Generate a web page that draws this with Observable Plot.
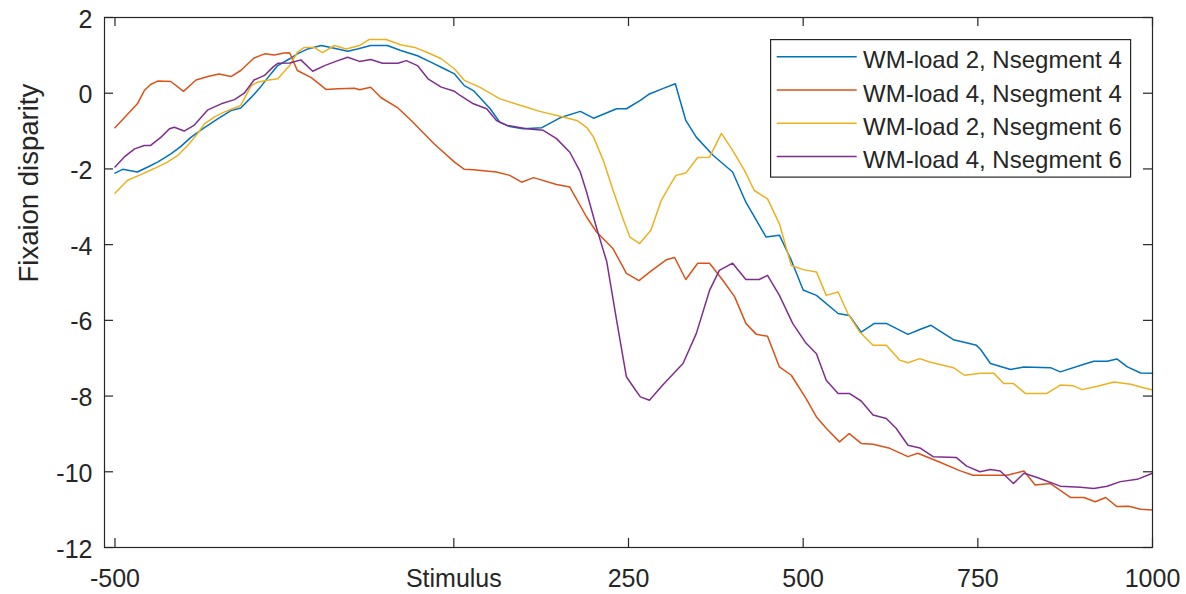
<!DOCTYPE html>
<html><head><meta charset="utf-8">
<script src="https://cdn.jsdelivr.net/npm/d3@7"></script>
<script src="https://cdn.jsdelivr.net/npm/@observablehq/plot@0.6"></script>
<style>
html,body{margin:0;padding:0;background:#fff;}
#wrap{position:relative;width:1186px;height:594px;font-family:"Liberation Sans",Arial,Helvetica,sans-serif;}
#legend{position:absolute;left:770px;top:39px;}
</style></head><body><div id="wrap"></div>
<script>
const seriesNames = ["WM-load 2, Nsegment 4", "WM-load 4, Nsegment 4", "WM-load 2, Nsegment 6", "WM-load 4, Nsegment 6"];
const seriesColors = ["#0072BD", "#D95319", "#EDB120", "#7E2F8E"];

const blueX = [-485,-474,-453,-438,-424,-405,-391,-376,-357,-338,-319,-305,-290,-276,-262,-252,-235,-224,-209,-190,-176,-152,-138,-119,-95,-76,-52,-33,-13,1,15,28,52,66,80,99,126,152,181,200,233,247,267,280,299,317,332,347,371,399,418,447,466,483,500,519,550,566,583,602,619,650,667,683,715,729,748,754,768,797,816,854,868,902,916,935,949,964,983,1000];
const blueY = [-2.11,-2.01,-2.08,-1.95,-1.82,-1.60,-1.41,-1.16,-0.91,-0.68,-0.46,-0.39,-0.11,0.18,0.51,0.73,0.91,1.04,1.17,1.26,1.21,1.11,1.17,1.26,1.26,1.13,0.99,0.82,0.64,0.51,0.20,0.07,-0.41,-0.77,-0.88,-0.94,-0.91,-0.65,-0.48,-0.66,-0.41,-0.41,-0.19,-0.02,0.12,0.25,-0.72,-1.16,-1.64,-2.08,-2.88,-3.80,-3.75,-4.41,-5.20,-5.34,-5.82,-5.87,-6.31,-6.08,-6.08,-6.37,-6.24,-6.13,-6.51,-6.57,-6.66,-6.77,-7.14,-7.30,-7.23,-7.25,-7.36,-7.16,-7.08,-7.08,-7.02,-7.23,-7.39,-7.40];

const redX = [-485,-453,-443,-434,-424,-405,-387,-369,-352,-336,-319,-305,-286,-271,-257,-243,-235,-224,-204,-183,-166,-142,-135,-119,-104,-80,-61,-28,1,15,28,61,80,97,114,147,166,190,204,228,247,265,282,304,316,332,349,366,385,402,418,433,449,466,483,504,519,533,552,566,583,600,624,650,664,695,724,743,792,816,832,854,883,902,918,933,949,966,983,1000];
const redY = [-0.91,-0.28,0.07,0.23,0.32,0.31,0.05,0.35,0.44,0.51,0.44,0.60,0.93,1.04,1.01,1.06,1.07,0.60,0.41,0.10,0.12,0.13,0.09,0.16,-0.12,-0.39,-0.72,-1.34,-1.82,-2.01,-2.02,-2.08,-2.17,-2.35,-2.23,-2.41,-2.48,-3.27,-3.66,-4.11,-4.76,-4.95,-4.70,-4.40,-4.34,-4.92,-4.49,-4.49,-4.94,-5.38,-6.08,-6.37,-6.42,-7.23,-7.45,-8.06,-8.55,-8.85,-9.21,-8.99,-9.25,-9.27,-9.38,-9.60,-9.51,-9.74,-9.97,-10.09,-10.09,-9.98,-10.35,-10.31,-10.68,-10.68,-10.79,-10.68,-10.92,-10.91,-10.99,-11.01];

const yellowX = [-485,-467,-448,-429,-410,-395,-381,-367,-357,-343,-329,-314,-305,-290,-281,-267,-252,-235,-224,-214,-200,-188,-171,-154,-135,-121,-97,-76,-56,-37,-18,1,15,37,66,104,123,152,176,190,200,214,228,243,252,266,282,297,309,318,332,349,366,383,399,416,430,449,466,483,500,519,533,550,564,581,600,619,638,650,667,681,715,731,754,773,787,801,818,849,868,887,899,921,945,969,983,1000];
const yellowY = [-2.64,-2.30,-2.15,-1.99,-1.82,-1.64,-1.38,-1.07,-0.81,-0.63,-0.50,-0.39,-0.32,0.20,0.29,0.34,0.38,0.73,1.08,1.21,1.21,1.07,1.26,1.17,1.26,1.42,1.42,1.28,1.21,1.07,0.91,0.64,0.34,0.16,-0.15,-0.37,-0.48,-0.61,-0.72,-0.90,-1.16,-1.78,-2.57,-3.36,-3.80,-3.97,-3.62,-2.83,-2.44,-2.17,-2.11,-1.70,-1.69,-1.06,-1.51,-2.04,-2.57,-2.79,-3.45,-4.55,-4.66,-4.72,-5.34,-5.25,-5.82,-6.31,-6.66,-6.66,-7.05,-7.12,-7.01,-7.10,-7.25,-7.45,-7.40,-7.40,-7.67,-7.67,-7.93,-7.93,-7.71,-7.73,-7.83,-7.74,-7.63,-7.69,-7.76,-7.84];

const purpleX = [-485,-472,-457,-443,-434,-419,-407,-400,-386,-372,-352,-333,-314,-300,-286,-271,-259,-252,-235,-219,-202,-185,-169,-152,-135,-119,-102,-80,-68,-52,-37,-18,1,9,28,47,61,76,104,128,147,166,181,190,204,219,233,247,257,267,280,299,328,347,366,380,399,418,437,449,466,485,504,519,533,550,566,583,600,619,633,650,667,686,719,734,753,768,782,801,816,835,868,897,916,935,954,978,1000];
const purpleY = [-1.95,-1.69,-1.47,-1.38,-1.38,-1.16,-0.94,-0.90,-1.00,-0.85,-0.44,-0.28,-0.17,0.00,0.35,0.47,0.69,0.79,0.80,0.88,0.58,0.73,0.84,0.95,0.84,0.89,0.79,0.79,0.86,0.73,0.38,0.16,0.05,-0.06,-0.28,-0.41,-0.72,-0.85,-0.94,-0.98,-1.20,-1.56,-2.08,-2.61,-3.54,-4.46,-6.00,-7.49,-7.76,-8.02,-8.11,-7.71,-7.14,-6.35,-5.21,-4.68,-4.49,-4.92,-4.92,-4.81,-5.34,-6.08,-6.60,-6.88,-7.58,-7.93,-7.93,-8.13,-8.50,-8.59,-8.85,-9.30,-9.37,-9.60,-9.62,-9.85,-10.00,-9.94,-9.98,-10.31,-10.04,-10.15,-10.38,-10.41,-10.44,-10.38,-10.26,-10.20,-10.04];

const xTickValues = [-485, 0, 250, 500, 750, 1000];
const xTickLabels = ["-500", "Stimulus", "250", "500", "750", "1000"];
const yTickValues = [-12, -10, -8, -6, -4, -2, 0, 2];
const yLabel = "Fixaion disparity";

const rows = [];
[[blueX, blueY], [redX, redY], [yellowX, yellowY], [purpleX, purpleY]].forEach(([xs, ys], k) =>
  xs.forEach((t, i) => rows.push({series: seriesNames[k], t, v: ys[i]})));

const W = 1186, H = 594, mL = 104, mR = 34, mT = 17, mB = 47;
const fw = W - mL - mR, fh = H - mT - mB, tl = 9;
const ink = "#262626";
const font = '"Liberation Sans", Arial, Helvetica, sans-serif';
const xLab = new Map(xTickValues.map((d, i) => [d, xTickLabels[i]]));

const chart = Plot.plot({
  width: W, height: H,
  marginLeft: mL, marginRight: mR, marginTop: mT, marginBottom: mB,
  style: {fontFamily: font, color: ink, background: "white", overflow: "visible"},
  x: {domain: [-500, 1000], axis: null},
  y: {domain: [-12, 2], axis: null},
  color: {domain: seriesNames, range: seriesColors},
  marks: [
    Plot.line(rows, {x: "t", y: "v", z: "series", stroke: "series", strokeWidth: 1.5}),
    Plot.frame({stroke: ink, strokeWidth: 1.2}),
    Plot.tickX(xTickValues, {x: d => d, insetTop: fh - tl, stroke: ink, strokeWidth: 1.2}),
    Plot.tickX(xTickValues, {x: d => d, insetBottom: fh - tl, stroke: ink, strokeWidth: 1.2}),
    Plot.tickY(yTickValues, {y: d => d, insetRight: fw - tl, stroke: ink, strokeWidth: 1.2}),
    Plot.tickY(yTickValues, {y: d => d, insetLeft: fw - tl, stroke: ink, strokeWidth: 1.2}),
    Plot.axisX(xTickValues, {tickSize: 0, tickPadding: 22, tickFormat: d => xLab.get(d), fontSize: 25, label: null}),
    Plot.axisY(yTickValues, {tickSize: 0, tickPadding: 12, tickFormat: d => String(d), fontSize: 25, label: null, dy: 2}),
    Plot.text([yLabel], {text: d => d, frameAnchor: "left", rotate: -90, dx: -67, lineAnchor: "bottom", fontSize: 27.5, fill: ink})
  ]
});

const wrap = document.getElementById("wrap");
wrap.appendChild(chart);

// legend box inside the axes (top-right)
const lg = d3.create("svg").attr("id", "legend").attr("width", 362).attr("height", 140)
  .style("font-family", font);
lg.append("rect").attr("x", 0.6).attr("y", 0.6).attr("width", 360).attr("height", 137.5)
  .attr("fill", "white").attr("stroke", ink).attr("stroke-width", 1.2);
seriesNames.forEach((name, i) => {
  const ly = 17.7 + 33.3 * i;
  lg.append("line").attr("x1", 6.7).attr("x2", 86.7).attr("y1", ly).attr("y2", ly)
    .attr("stroke", seriesColors[i]).attr("stroke-width", 1.5);
  lg.append("text").attr("x", 93).attr("y", ly + 11.6).attr("font-size", 24)
    .attr("fill", ink).text(name);
});
wrap.appendChild(lg.node());
</script>
</body></html>
